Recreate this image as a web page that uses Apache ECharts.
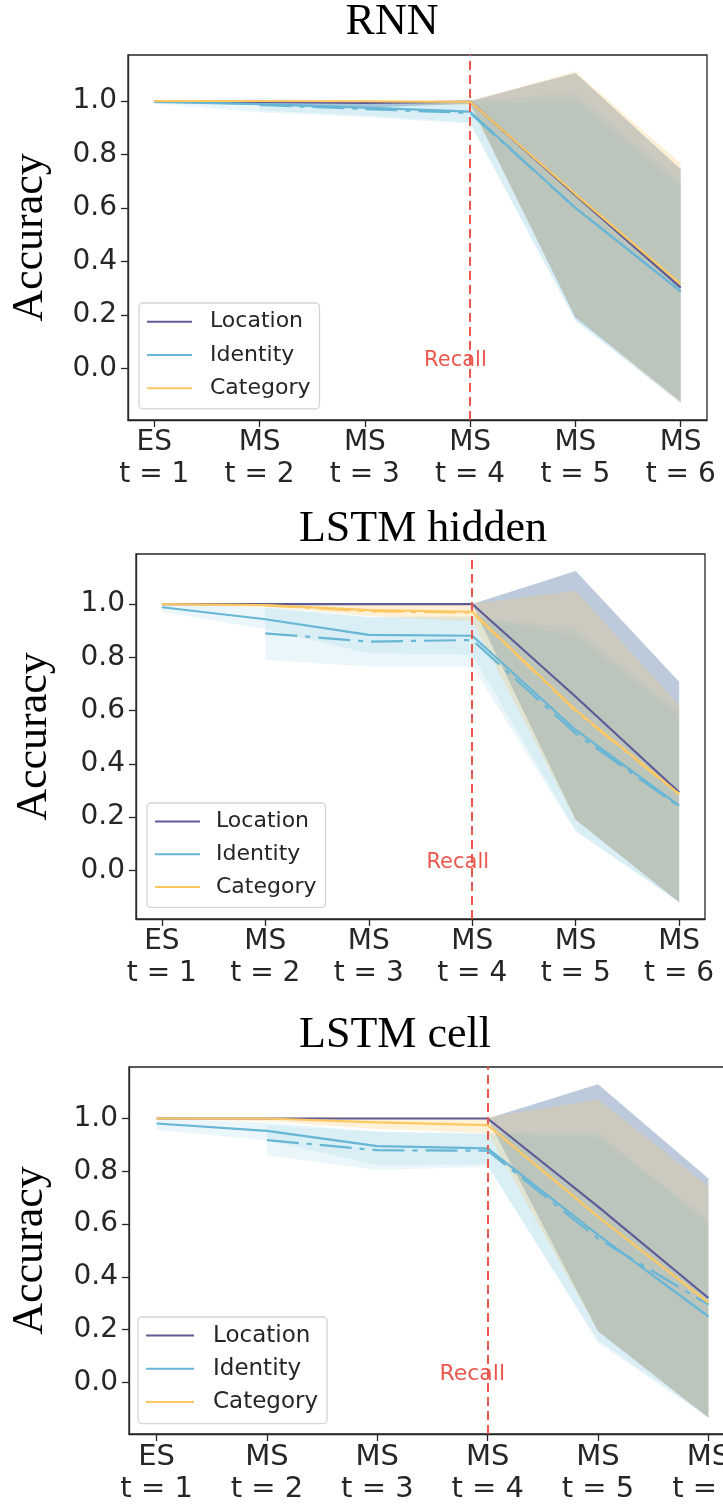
<!DOCTYPE html>
<html>
<head>
<meta charset="utf-8">
<script src="https://cdn.jsdelivr.net/npm/echarts@6/dist/echarts.min.js"></script>
<style>
  html, body { margin: 0; padding: 0; background: #fff; overflow: hidden; }
  /* wider than the window: the last panel runs off the right edge like the original */
  #chart { width: 760px; height: 1507px; }
</style>
</head>
<body>
<div id="chart"></div>
<script>
// time steps and labels
const steps = [1, 2, 3, 4, 5, 6];
const xLabels = ['ES\nt = 1', 'MS\nt = 2', 'MS\nt = 3', 'MS\nt = 4', 'MS\nt = 5', 'MS\nt = 6'];
const yTicks = [0, 0.2, 0.4, 0.6, 0.8, 1.0];
const names = ['Location', 'Identity', 'Category'];
const titles = ['RNN', 'LSTM hidden', 'LSTM cell'];

// RNN
const rnnLocation   = [1.0, 0.997, 0.993, 0.998, 0.648, 0.302];
const rnnLocationLo = [0.995, 0.985, 0.975, 0.99, 0.19, -0.125];
const rnnLocationHi = [1.0, 1.0, 1.0, 1.0, 1.105, 0.745];
const rnnIdentity   = [0.997, 0.988, 0.975, 0.96, 0.6, 0.288];
const rnnIdentityLo = [0.99, 0.958, 0.94, 0.915, 0.176, -0.13];
const rnnIdentityHi = [1.0, 1.01, 1.0, 1.0, 1.03, 0.705];
const rnnCategory   = [1.0, 1.0, 0.999, 0.997, 0.652, 0.315];
const rnnCategoryLo = [0.997, 0.995, 0.99, 0.985, 0.194, -0.13];
const rnnCategoryHi = [1.0, 1.0, 1.0, 1.0, 1.11, 0.767];
const rnnIdentity2   = [null, 0.985, 0.97, 0.955, 0.6, 0.288];
const rnnIdentity2Lo = [null, 0.965, 0.945, 0.92, 0.18, -0.13];
const rnnIdentity2Hi = [null, 1.005, 0.995, 0.99, 1.0, 0.68];

// LSTM hidden
const lhLocation   = [1.0, 1.0, 1.0, 1.0, 0.652, 0.293];
const lhLocationLo = [1.0, 0.998, 0.998, 0.998, 0.19, -0.12];
const lhLocationHi = [1.0, 1.0, 1.0, 1.0, 1.124, 0.708];
const lhIdentity   = [0.988, 0.943, 0.884, 0.881, 0.527, 0.243];
const lhIdentityLo = [0.97, 0.905, 0.815, 0.81, 0.15, -0.12];
const lhIdentityHi = [1.005, 0.985, 0.95, 0.95, 0.91, 0.6];
const lhCategory   = [1.0, 0.996, 0.977, 0.971, 0.602, 0.287];
const lhCategoryLo = [0.995, 0.99, 0.955, 0.935, 0.189, -0.118];
const lhCategoryHi = [1.0, 1.0, 1.0, 1.0, 1.05, 0.62];
const lhIdentity2   = [null, 0.89, 0.859, 0.865, 0.514, 0.239];
const lhIdentity2Lo = [null, 0.79, 0.765, 0.765, 0.145, -0.12];
const lhIdentity2Hi = [null, 0.99, 0.95, 0.955, 0.88, 0.58];
const lhCategory2   = [null, 0.995, 0.973, 0.968, 0.598, 0.285];

// LSTM cell
const lcLocation   = [1.0, 1.0, 1.0, 1.0, 0.666, 0.32];
const lcLocationLo = [1.0, 0.998, 0.998, 0.998, 0.194, -0.133];
const lcLocationHi = [1.0, 1.0, 1.0, 1.0, 1.13, 0.773];
const lcIdentity   = [0.981, 0.953, 0.895, 0.887, 0.559, 0.25];
const lcIdentityLo = [0.956, 0.918, 0.824, 0.827, 0.15, -0.133];
const lcIdentityHi = [1.0, 0.985, 0.95, 0.945, 0.95, 0.6];
const lcCategory   = [1.0, 1.0, 0.985, 0.975, 0.628, 0.303];
const lcCategoryLo = [0.997, 0.99, 0.96, 0.945, 0.194, -0.133];
const lcCategoryHi = [1.005, 1.005, 1.005, 1.005, 1.072, 0.742];
const lcIdentity2   = [null, 0.918, 0.88, 0.878, 0.545, 0.295];
const lcIdentity2Lo = [null, 0.861, 0.805, 0.817, 0.16, -0.13];
const lcIdentity2Hi = [null, 0.975, 0.95, 0.94, 0.93, 0.62];

const colors = { Location: '#5e5b97', Identity: '#67b6d5', Category: '#fdc862' };
const bandFill = {
  Location: 'rgba(50,90,145,0.32)',
  Identity: 'rgba(103,182,213,0.13)',
  Category: 'rgba(253,200,98,0.25)'
};
const recallRed = '#e9574d';

// per panel: [name, values, lo, hi, dashed]
const panelLines = [
  [
    ['Location', rnnLocation, rnnLocationLo, rnnLocationHi, false],
    ['Identity', rnnIdentity, rnnIdentityLo, rnnIdentityHi, false],
    ['Identity', rnnIdentity2, rnnIdentity2Lo, rnnIdentity2Hi, true],
    ['Category', rnnCategory, rnnCategoryLo, rnnCategoryHi, false]
  ],
  [
    ['Location', lhLocation, lhLocationLo, lhLocationHi, false],
    ['Identity', lhIdentity, lhIdentityLo, lhIdentityHi, false],
    ['Identity', lhIdentity2, lhIdentity2Lo, lhIdentity2Hi, true],
    ['Category', lhCategory, lhCategoryLo, lhCategoryHi, false],
    ['Category', lhCategory2, null, null, true]
  ],
  [
    ['Location', lcLocation, lcLocationLo, lcLocationHi, false],
    ['Identity', lcIdentity, lcIdentityLo, lcIdentityHi, false],
    ['Identity', lcIdentity2, lcIdentity2Lo, lcIdentity2Hi, true],
    ['Category', lcCategory, lcCategoryLo, lcCategoryHi, false]
  ]
];

// layout of the three axes boxes
const grids = [
  { left: 128, top: 55, width: 579, height: 365 },
  { left: 136, top: 554, width: 569, height: 365 },
  { left: 126, top: 1067, width: 610, height: 367 }
];
const yRanges = [[-0.193, 1.172], [-0.183, 1.188], [-0.195, 1.195]];
const titlePos = [[392, 0], [423, 507], [395, 1013]];
const nameGaps = [76, 80, 77];
const legendPos = [
  { left: 139, top: 303, font: 22, row: 33.3, iw: 45, pad: [2, 9, 4, 8], gap: 13 },
  { left: 147, top: 803, font: 22, row: 32.8, iw: 45, pad: [2, 9, 4, 8], gap: 11 },
  { left: 138, top: 1317, font: 23, row: 33.2, iw: 48, pad: [2, 9, 5, 8], gap: 14 }
];

const ink = '#262626';

function bandSeries(gi, lo, hi, fill) {
  const data = [];
  steps.forEach((s, i) => { if (lo[i] != null) data.push([s, lo[i], hi[i]]); });
  return {
    type: 'custom',
    xAxisIndex: gi,
    yAxisIndex: gi,
    silent: true,
    z: 1,
    data: data,
    encode: { x: 0, y: [1, 2] },
    renderItem: function (params, api) {
      if (params.dataIndex !== 0) return;
      const up = data.map(d => api.coord([d[0], d[2]]));
      const dn = data.map(d => api.coord([d[0], d[1]])).reverse();
      return {
        type: 'polygon',
        shape: { points: up.concat(dn) },
        style: { fill: fill }
      };
    }
  };
}

const option = {
  animation: false,
  backgroundColor: '#fff',
  title: [],
  legend: [],
  grid: [],
  xAxis: [],
  yAxis: [],
  series: []
};

grids.forEach((g, gi) => {
  option.grid.push(Object.assign({
    show: true, borderColor: ink, borderWidth: 1.3, backgroundColor: 'transparent'
  }, g));

  option.title.push({
    text: titles[gi],
    left: titlePos[gi][0],
    top: titlePos[gi][1],
    textAlign: 'center',
    padding: 0,
    textStyle: { fontFamily: 'Liberation Serif', fontSize: 44, fontWeight: 'normal', color: '#000', lineHeight: 44 }
  });

  option.xAxis.push({
    type: 'value', gridIndex: gi, min: 0.75, max: 6.25,
    splitLine: { show: false },
    axisLine: { show: true, onZero: false, lineStyle: { color: ink, width: 1.3 } },
    axisTick: { show: true, length: 7, lineStyle: { color: ink, width: 1.3 }, customValues: steps },
    axisLabel: {
      customValues: steps,
      formatter: v => xLabels[Math.round(v) - 1],
      fontFamily: 'DejaVu Sans', fontSize: gi === 2 ? 29 : 28, color: ink,
      lineHeight: 32, margin: 7
    }
  });

  option.yAxis.push({
    type: 'value', gridIndex: gi, min: yRanges[gi][0], max: yRanges[gi][1],
    name: 'Accuracy', nameLocation: 'middle', nameGap: nameGaps[gi],
    nameTextStyle: { fontFamily: 'Liberation Serif', fontSize: 44, color: '#000' },
    splitLine: { show: false },
    axisLine: { show: true, onZero: false, lineStyle: { color: ink, width: 1.3 } },
    axisTick: { show: true, length: 7, lineStyle: { color: ink, width: 1.3 }, customValues: yTicks },
    axisLabel: {
      customValues: yTicks,
      formatter: v => v.toFixed(1),
      fontFamily: 'DejaVu Sans', fontSize: 28, color: ink, margin: 11
    }
  });

  const L = legendPos[gi];
  option.legend.push({
    left: L.left, top: L.top, orient: 'vertical',
    data: names, icon: 'rect', itemWidth: L.iw, itemHeight: 2, itemGap: 0,
    padding: L.pad, selectedMode: false,
    backgroundColor: 'rgba(255,255,255,0.85)', borderColor: '#d4d4d4', borderWidth: 1.3, borderRadius: 4,
    textStyle: { fontFamily: 'DejaVu Sans', fontSize: L.font, color: ink, lineHeight: L.row, padding: [0, 0, 0, L.gap] }
  });

  // bands first
  panelLines[gi].forEach(l => {
    if (l[2]) option.series.push(bandSeries(gi, l[2], l[3], bandFill[l[0]]));
  });
  // then lines
  panelLines[gi].forEach((l, li) => {
    const data = [];
    steps.forEach((s, i) => { if (l[1][i] != null) data.push([s, l[1][i]]); });
    const ser = {
      type: 'line', name: l[0], xAxisIndex: gi, yAxisIndex: gi,
      data: data, showSymbol: false, symbol: 'none', z: 3 + li,
      color: colors[l[0]],
      lineStyle: { color: colors[l[0]], width: 2.2, type: l[4] ? [32, 8, 5, 8] : 'solid' }
    };
    if (li === panelLines[gi].length - 1) {
      ser.markLine = {
        silent: true, symbol: 'none', animation: false,
        label: { show: false },
        lineStyle: { color: recallRed, width: 2, type: [9, 5] },
        data: [{ xAxis: 4 }]
      };
      ser.markPoint = {
        silent: true, symbol: 'circle', symbolSize: 0,
        data: [{ coord: [3.86, 0] }],
        label: {
          show: true, formatter: 'Recall', position: 'inside', offset: [0, -8],
          fontFamily: 'DejaVu Sans', fontSize: gi === 2 ? 22 : 21, color: recallRed
        }
      };
    }
    option.series.push(ser);
  });
});

const chart = echarts.init(document.getElementById('chart'));
chart.setOption(option);
</script>
</body>
</html>
